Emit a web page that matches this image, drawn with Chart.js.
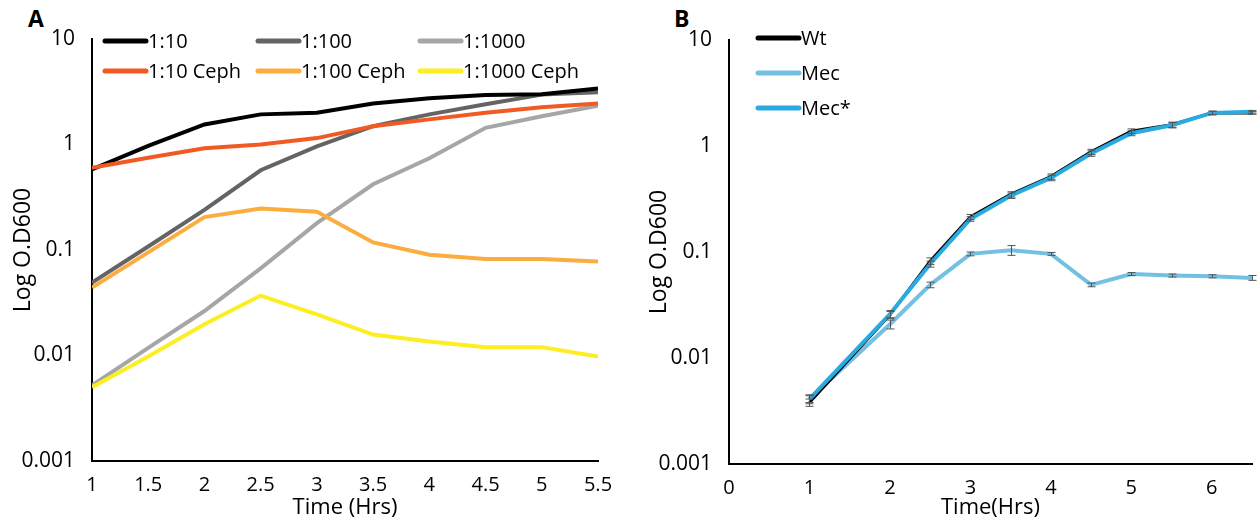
<!DOCTYPE html>
<html lang="en">
<head>
  <meta charset="UTF-8">
  <title>Growth curves</title>
  <script src="https://cdn.jsdelivr.net/npm/chart.js"></script>
  <style>
    body {
      margin: 0;
      background: #fff;
      font-family: "Open Sans", sans-serif;
    }
    #wrap { position: relative; width: 1258px; height: 525px; }
    .panel { position: absolute; top: 0; height: 525px; }
    #panelA { left: 0; width: 620px; }
    #panelB { left: 630px; width: 628px; }
    .tag { position: absolute; top: 2px; font-size: 23px; font-weight: bold; }
  </style>
</head>
<body>
  <div id="wrap">
    <div class="tag" style="left:28px">A</div>
    <div class="tag" style="left:674px">B</div>
    <div class="panel" id="panelA"><canvas id="chartA"></canvas></div>
    <div class="panel" id="panelB"><canvas id="chartB"></canvas></div>
  </div>

  <script>
    // axis ticks
    const yTicks = [0.001, 0.01, 0.1, 1, 10];
    const yTickLabels = ["0.001", "0.01", "0.1", "1", "10"];
    const xTicksA = [1, 1.5, 2, 2.5, 3, 3.5, 4, 4.5, 5, 5.5];
    const xTicksB = [0, 1, 2, 3, 4, 5, 6];

    // panel A: dilutions, with and without Ceph
    const timesA = [1, 1.5, 2, 2.5, 3, 3.5, 4, 4.5, 5, 5.5];
    const dil10 = [0.58, 0.97, 1.55, 1.93, 2.0, 2.45, 2.75, 2.95, 3.0, 3.4];
    const dil100 = [0.049, 0.108, 0.24, 0.57, 0.96, 1.49, 1.93, 2.41, 2.97, 3.13];
    const dil1000 = [0.0052, 0.0118, 0.0264, 0.067, 0.18, 0.42, 0.74, 1.44, 1.85, 2.33];
    const ceph10 = [0.60, 0.75, 0.92, 1.0, 1.15, 1.49, 1.73, 2.0, 2.25, 2.45];
    const ceph100 = [0.044, 0.095, 0.205, 0.247, 0.23, 0.118, 0.09, 0.082, 0.082, 0.078];
    const ceph1000 = [0.005, 0.0098, 0.0198, 0.037, 0.0245, 0.0158, 0.0136, 0.012, 0.012, 0.0098];

    // panel B: strains, with error (+/-)
    const timesB = [1, 2, 2.5, 3, 3.5, 4, 4.5, 5, 5.5, 6, 6.5];
    const wt = [0.0038, 0.0255, 0.082, 0.214, 0.35, 0.515, 0.88, 1.38, 1.59, 2.05, 2.05];
    const wtErr = [0.0003, 0.002, 0.006, 0.012, 0.02, 0.03, 0.05, 0.07, 0.09, 0.08, 0.06];
    const mec = [0.0041, 0.0208, 0.049, 0.096, 0.104, 0.096, 0.049, 0.062, 0.060, 0.059, 0.057];
    const mecErr = [0.0004, 0.002, 0.003, 0.004, 0.011, 0.003, 0.002, 0.002, 0.002, 0.002, 0.003];
    const mecStar = [0.0041, 0.026, 0.077, 0.205, 0.34, 0.5, 0.85, 1.32, 1.57, 2.05, 2.1];
    const mecStarErr = [0.0003, 0.002, 0.005, 0.01, 0.02, 0.03, 0.05, 0.07, 0.09, 0.08, 0.06];

    const FONT = "'Open Sans', sans-serif";

    function points(xs, ys) {
      return xs.map((x, i) => ({ x: x, y: ys[i] }));
    }

    function series(label, xs, ys, color, width, order, errors) {
      return {
        label: label,
        data: points(xs, ys),
        borderColor: color,
        backgroundColor: color,
        borderWidth: width,
        pointRadius: 0,
        tension: 0,
        order: order,
        errors: errors
      };
    }

    // legend drawn inside the plot, in a grid
    const gridLegend = {
      id: "gridLegend",
      afterDraw(chart, args, opts) {
        const ctx = chart.ctx;
        ctx.save();
        ctx.font = "20px " + FONT;
        ctx.textBaseline = "middle";
        chart.data.datasets.forEach((ds, i) => {
          const col = i % opts.cols.length;
          const row = Math.floor(i / opts.cols.length);
          const x = opts.cols[col], y = opts.rows[row];
          ctx.strokeStyle = ds.borderColor;
          ctx.lineWidth = 5;
          ctx.lineCap = "round";
          ctx.beginPath();
          ctx.moveTo(x, y);
          ctx.lineTo(x + 41, y);
          ctx.stroke();
          ctx.fillStyle = "#000";
          ctx.fillText(ds.label, x + 43, y + 1);
        });
        ctx.restore();
      }
    };

    // small capped error bars
    const errorBars = {
      id: "errorBars",
      afterDatasetsDraw(chart) {
        const ctx = chart.ctx;
        const xs = chart.scales.x, ys = chart.scales.y;
        ctx.save();
        ctx.strokeStyle = "#555";
        ctx.lineWidth = 1;
        chart.data.datasets.forEach(ds => {
          if (!ds.errors) return;
          ds.data.forEach((p, i) => {
            const e = ds.errors[i];
            const px = Math.round(xs.getPixelForValue(p.x)) + 0.5;
            const top = ys.getPixelForValue(p.y + e);
            const bot = ys.getPixelForValue(p.y - e);
            ctx.beginPath();
            ctx.moveTo(px, top); ctx.lineTo(px, bot);
            ctx.moveTo(px - 4, top); ctx.lineTo(px + 4, top);
            ctx.moveTo(px - 4, bot); ctx.lineTo(px + 4, bot);
            ctx.stroke();
          });
        });
        ctx.restore();
      }
    };

    function makeChart(id, datasets, xMin, xMax, xTicks, xTitle, box, legendPos) {
      return new Chart(document.getElementById(id), {
        type: "line",
        data: { datasets: datasets },
        plugins: [gridLegend, errorBars],
        options: {
          responsive: true,
          maintainAspectRatio: false,
          animation: false,
          layout: { padding: { left: 0, top: box.top, right: box.right, bottom: 0 } },
          plugins: {
            legend: { display: false },
            tooltip: { enabled: false },
            gridLegend: legendPos
          },
          scales: {
            x: {
              type: "linear",
              min: xMin,
              max: xMax,
              afterBuildTicks: s => { s.ticks = xTicks.map(v => ({ value: v })); },
              afterFit: s => { s.height = box.xHeight; },
              grid: { display: false },
              border: { display: true, color: "#000", width: 2 },
              ticks: {
                color: "#000",
                font: { family: FONT, size: 20 },
                padding: 4,
                maxRotation: 0,
                callback: v => String(v)
              },
              title: {
                display: true,
                text: xTitle,
                color: "#000",
                font: { family: FONT, size: 22 },
                padding: { top: 0, bottom: 4 }
              }
            },
            y: {
              type: "logarithmic",
              min: 0.001,
              max: 10,
              afterBuildTicks: s => { s.ticks = yTicks.map(v => ({ value: v })); },
              afterFit: s => { s.width = box.yWidth; },
              grid: { display: false },
              border: { display: true, color: "#000", width: 2 },
              ticks: {
                color: "#000",
                font: { family: FONT, size: 21 },
                padding: 9,
                callback: v => yTickLabels[yTicks.indexOf(v)]
              },
              title: {
                display: true,
                text: "Log O.D600",
                color: "#000",
                font: { family: FONT, size: 23 },
                padding: { top: box.titleX, bottom: 0 }
              }
            }
          }
        }
      });
    }

    makeChart("chartA", [
      series("1:10", timesA, dil10, "#000000", 4, 1),
      series("1:100", timesA, dil100, "#646464", 4, 1),
      series("1:1000", timesA, dil1000, "#a6a6a6", 4, 1),
      series("1:10 Ceph", timesA, ceph10, "#f15a24", 4, 0),
      series("1:100 Ceph", timesA, ceph100, "#fbad3f", 4, 0),
      series("1:1000 Ceph", timesA, ceph1000, "#fcee21", 4, 0)
    ], 1, 5.5, xTicksA, "Time (Hrs)",
      { top: 39, right: 22, yWidth: 92, xHeight: 64, titleX: 10 },
      { cols: [105, 258, 420], rows: [41, 71] });

    makeChart("chartB", [
      series("Wt", timesB, wt, "#000000", 3, 1, wtErr),
      series("Mec", timesB, mec, "#74c0e3", 4, 2, mecErr),
      series("Mec*", timesB, mecStar, "#29abe2", 4, 0, mecStarErr)
    ], 0, 6.5, xTicksB, "Time(Hrs)",
      { top: 40, right: 6, yWidth: 99, xHeight: 61, titleX: 16 },
      { cols: [128], rows: [38, 73, 108] });
  </script>
</body>
</html>
